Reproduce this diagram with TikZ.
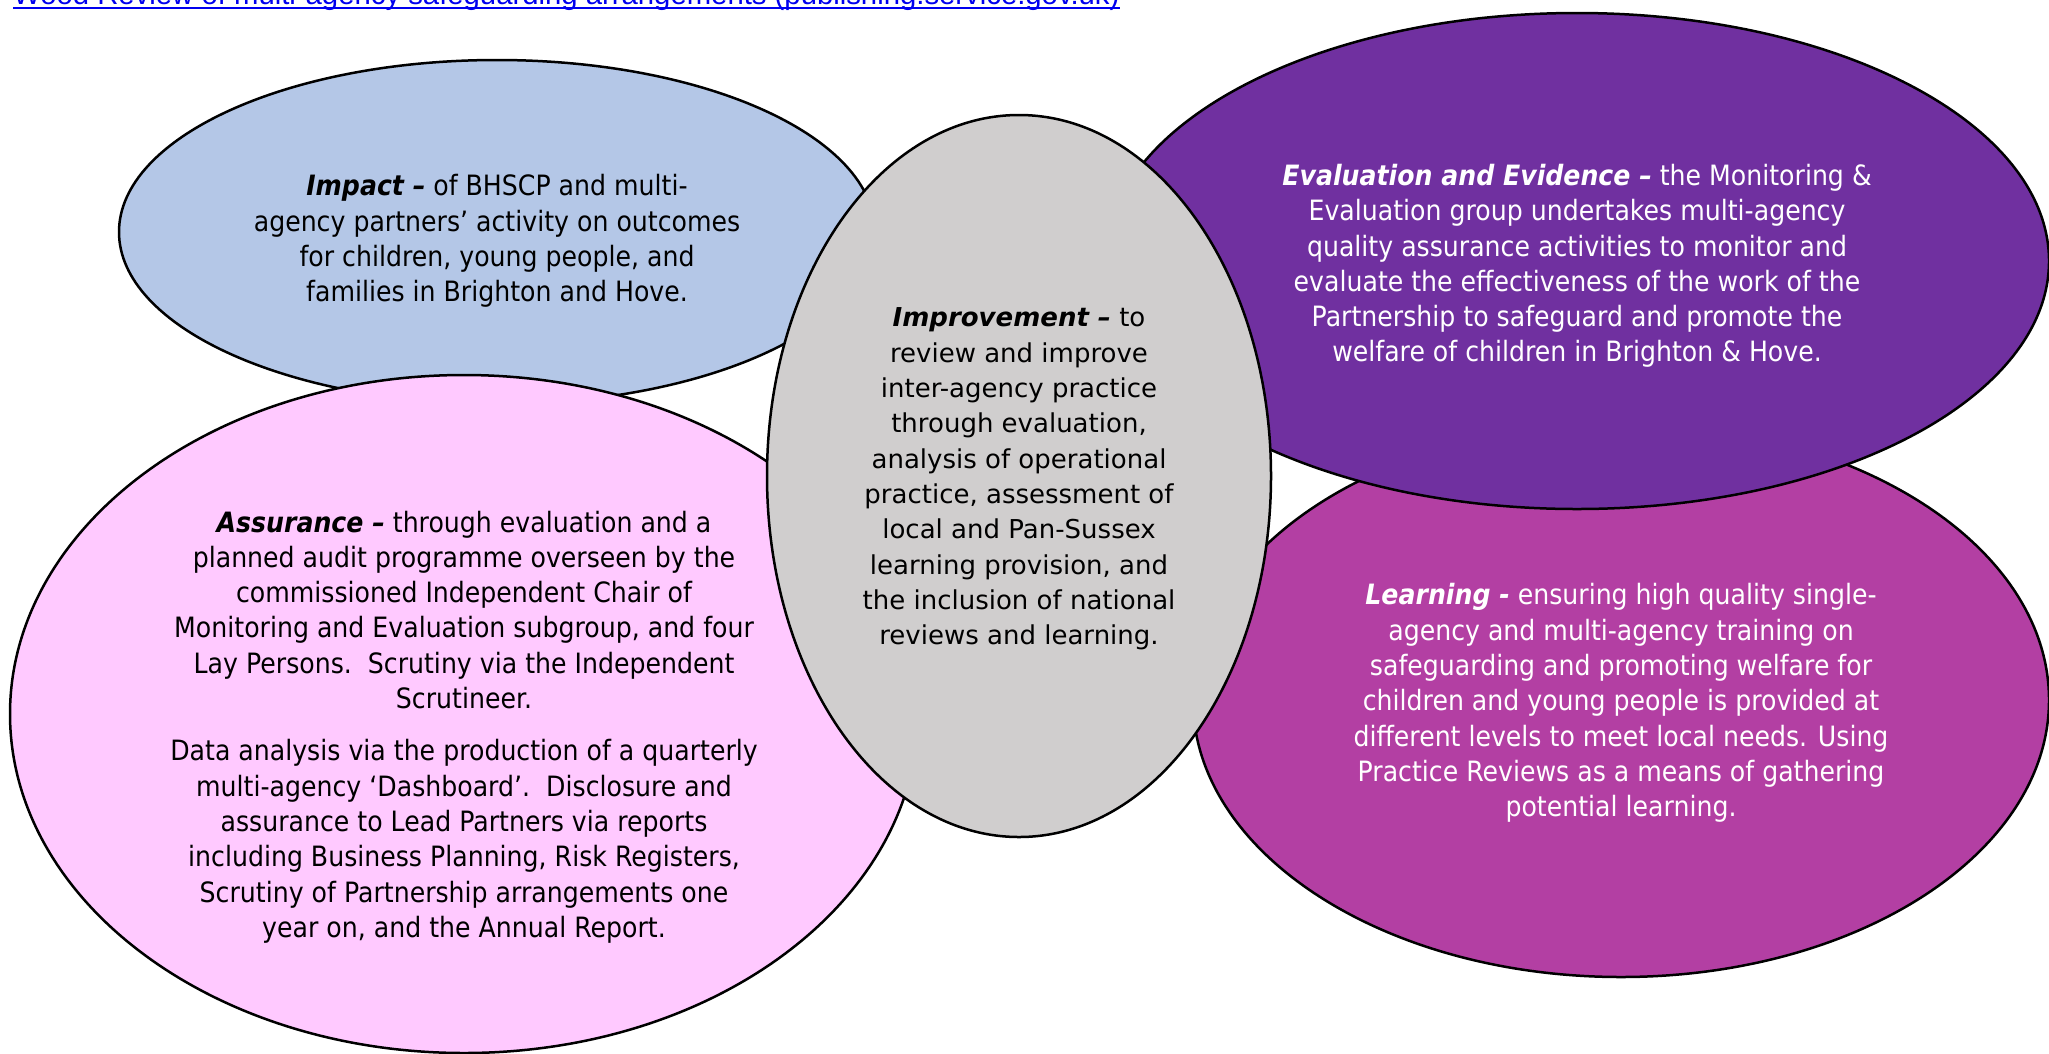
\documentclass[tikz,border=0pt]{standalone}
\usepackage{fontspec}
\usepackage{tikz}
\usetikzlibrary{shapes.geometric}
\newfontfamily\tahomafont[FakeStretch=0.9]{DejaVu Sans}
\newfontfamily\verdanafont{DejaVu Sans}
\newfontfamily\linkfont{Liberation Sans}
\definecolor{impactblue}{HTML}{B4C7E7}
\definecolor{assurancepink}{HTML}{FFC9FF}
\definecolor{improvegrey}{HTML}{D0CECE}
\definecolor{evidencepurple}{HTML}{7030A0}
\definecolor{learningmagenta}{HTML}{B33FA3}
\definecolor{linkblue}{HTML}{0000EE}
\newcommand{\lead}[1]{\textbf{\textit{#1}}}

\begin{document}
\begin{tikzpicture}[x=1pt, y=-1pt,
    bubble/.style={ellipse, draw, line width=2.5pt, inner sep=0pt},
    blurb/.style={inner sep=0pt, align=center, font=\tahomafont\fontsize{28pt}{35.3pt}\selectfont}]
    \useasboundingbox (0,0) rectangle (2049,1053);
    \clip (0,0) rectangle (2049,1053);
    \node[anchor=base west, inner sep=0pt, text=linkblue, font=\linkfont\fontsize{29.3pt}{34pt}\selectfont] (link) at (13,4)
        {Wood Review of multi-agency safeguarding arrangements (publishing.service.gov.uk)};
    \draw[linkblue, line width=2.5pt] ([yshift=-4pt]link.base west) -- ([yshift=-4pt]link.base east);

    \node[bubble, fill=impactblue, minimum width=756pt, minimum height=344pt] (impact) at (497,232) {};
    \node[blurb] (impacttext) at ([yshift=-9pt]impact.center)
        {\lead{Impact –} of BHSCP and multi-\\agency partners’ activity on outcomes\\for children, young people, and\\families in Brighton and Hove.};
    \node[bubble, fill=assurancepink, minimum width=908pt, minimum height=678pt] (assurance) at (464,714) {};
    \node[blurb] (assurancetext) at ([yshift=-13pt]assurance.center)
        {\lead{Assurance –} through evaluation and a\\planned audit programme overseen by the\\commissioned Independent Chair of\\Monitoring and Evaluation subgroup, and four\\Lay Persons.\ \ Scrutiny via the Independent\\Scrutineer.\\[17pt]
        Data analysis via the production of a quarterly\\multi-agency ‘Dashboard’.\ \ Disclosure and\\assurance to Lead Partners via reports\\including Business Planning, Risk Registers,\\Scrutiny of Partnership arrangements one\\year on, and the Annual Report.};
    \node[bubble, fill=learningmagenta, minimum width=856pt, minimum height=554pt] (learning) at (1621,700) {};
    \node[blurb, text=white] (learningtext) at ([yshift=-3pt]learning.center)
        {\lead{Learning -} ensuring high quality single-\\agency and multi-agency training on\\safeguarding and promoting welfare for\\children and young people is provided at\\different levels to meet local needs. Using\\Practice Reviews as a means of gathering\\potential learning.};
    \node[bubble, fill=evidencepurple, minimum width=944pt, minimum height=496pt] (evidence) at (1577,261) {};
    \node[blurb, text=white] (evidencetext) at ([yshift=-5pt]evidence.center)
        {\lead{Evaluation and Evidence –} the Monitoring \&\\Evaluation group undertakes multi-agency\\quality assurance activities to monitor and\\evaluate the effectiveness of the work of the\\Partnership to safeguard and promote the\\welfare of children in Brighton \& Hove.};
    \node[bubble, fill=improvegrey, minimum width=504pt, minimum height=722pt] (improvement) at (1019,476) {};
    \node[blurb, font=\verdanafont\fontsize{26pt}{35.3pt}\selectfont] (improvementtext) at ([yshift=-3pt]improvement.center)
        {\lead{Improvement –} to\\review and improve\\inter-agency practice\\through evaluation,\\analysis of operational\\practice, assessment of\\local and Pan-Sussex\\learning provision, and\\the inclusion of national\\reviews and learning.};
\end{tikzpicture}
\end{document}
